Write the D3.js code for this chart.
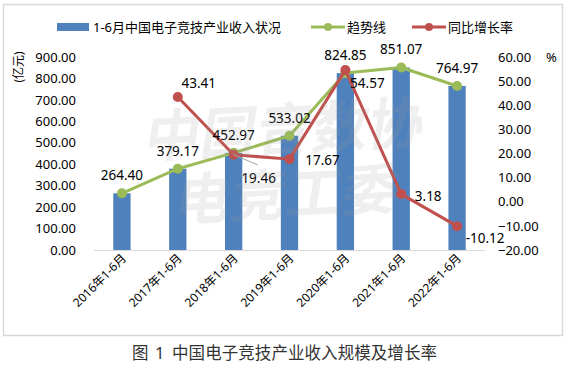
<!DOCTYPE html>
<html><head><meta charset="utf-8">
<script src="https://cdn.jsdelivr.net/npm/d3@7"></script>
<style>
html,body{margin:0;padding:0;background:#fff;}
text{font-family:"Noto Sans","Noto Sans CJK SC",sans-serif;}
</style></head>
<body><svg id="c" width="568" height="368"></svg>
<script>
const categories = ["2016年1-6月","2017年1-6月","2018年1-6月","2019年1-6月","2020年1-6月","2021年1-6月","2022年1-6月"];
const revenue = [264.40, 379.17, 452.97, 533.02, 824.85, 851.07, 764.97];
const growth = [null, 43.41, 19.46, 17.67, 54.57, 3.18, -10.12];
const leftTicks = [0,100,200,300,400,500,600,700,800,900];
const rightTicks = [-20,-10,0,10,20,30,40,50,60];
const seriesNames = ["1-6月中国电子竞技产业收入状况","趋势线","同比增长率"];

const blue="#4f81bd", green="#9bbb59", red="#c0504d";
const svg=d3.select("#c");
svg.append("rect").attr("x",3.5).attr("y",4.5).attr("width",559).attr("height",331)
  .attr("fill","#fff").attr("stroke","#d9d9d9").attr("stroke-width",1.5);

const x=d3.scaleBand().domain(categories).range([94,485]).paddingInner(0.69).paddingOuter(0.345);
const yL=d3.scaleLinear().domain([0,900]).range([250,57]);
const yR=d3.scaleLinear().domain([-20,60]).range([250,57]);
const cx=d=>x(d)+x.bandwidth()/2;

// left axis
const gl=svg.append("g").attr("transform","translate(76,0)")
  .call(d3.axisLeft(yL).tickValues(leftTicks).tickFormat(d3.format(".2f")).tickSize(0).tickPadding(0));
gl.select(".domain").remove();
gl.selectAll("text").attr("font-size",13).attr("fill","#000");
// right axis
const gr=svg.append("g").attr("transform","translate(498,0)")
  .call(d3.axisRight(yR).tickValues(rightTicks).tickFormat(d3.format(".2f")).tickSize(0).tickPadding(0));
gr.select(".domain").remove();
gr.selectAll("text").attr("font-size",13).attr("fill","#000");
svg.append("text").attr("x",546).attr("y",62).attr("font-size",13).text("%");
svg.append("text").attr("transform","translate(23,67) rotate(-90)").attr("text-anchor","middle")
  .attr("font-size",12).text("(亿元)");

// bars
svg.append("g").selectAll("rect").data(categories).join("rect")
  .attr("x",d=>x(d)).attr("width",x.bandwidth())
  .attr("y",(d,i)=>yL(revenue[i])).attr("height",(d,i)=>250-yL(revenue[i]))
  .attr("fill",blue);
// baseline
svg.append("line").attr("x1",94).attr("x2",485).attr("y1",250.5).attr("y2",250.5)
  .attr("stroke","#d9d9d9").attr("stroke-width",1);

// x labels
svg.append("g").selectAll("text").data(categories).join("text")
  .attr("transform",d=>`translate(${cx(d)+5},${259}) rotate(-45)`)
  .attr("text-anchor","end").attr("font-size",12).attr("fill","#000").text(d=>d);

// trend line
const ptsG=categories.map((c,i)=>[cx(c),yL(revenue[i])]);
svg.append("path").attr("d",d3.line()(ptsG)).attr("fill","none").attr("stroke",green)
  .attr("stroke-width",3).attr("stroke-linejoin","round");
svg.append("g").selectAll("circle").data(ptsG).join("circle")
  .attr("cx",d=>d[0]).attr("cy",d=>d[1]).attr("r",5).attr("fill",green);

// growth line
const ptsR=categories.map((c,i)=>growth[i]==null?null:[cx(c),yR(growth[i])]).filter(d=>d);
svg.append("path").attr("d",d3.line()(ptsR)).attr("fill","none").attr("stroke",red)
  .attr("stroke-width",3).attr("stroke-linejoin","round");
svg.append("g").selectAll("circle").data(ptsR).join("circle")
  .attr("cx",d=>d[0]).attr("cy",d=>d[1]).attr("r",5).attr("fill",red);

// leader line for 19.46
svg.append("line").attr("x1",cx(categories[2])).attr("y1",yR(growth[2]))
  .attr("x2",cx(categories[2])+24).attr("y2",yR(growth[2])+10).attr("stroke","#a6a6a6").attr("stroke-width",1);

// revenue labels
svg.append("g").selectAll("text").data(categories).join("text")
  .attr("x",d=>cx(d)).attr("y",(d,i)=>yL(revenue[i])-13)
  .attr("text-anchor","middle").attr("font-size",13.5).attr("fill","#000")
  .text((d,i)=>revenue[i].toFixed(2));
// growth labels (offsets relative to point)
const gOff=[null,[21,-9],[25,28],[33,6],[22,18],[27,7],[28,17]];
const gData=categories.map((c,i)=>({c,v:growth[i],o:gOff[i]})).filter(d=>d.v!=null);
svg.append("g").selectAll("text").data(gData).join("text")
  .attr("x",d=>cx(d.c)+d.o[0]).attr("y",d=>yR(d.v)+d.o[1])
  .attr("text-anchor","middle").attr("font-size",13.5).attr("fill","#000")
  .text(d=>d.v.toFixed(2));

// watermark
const wm=svg.append("g").attr("fill","#9a9a9a").attr("fill-opacity",0.16)
  .attr("font-weight","bold").attr("font-size",56).attr("font-family","Noto Sans CJK SC");
wm.append("text").attr("transform","translate(282,150) rotate(-3) skewX(-12)").attr("text-anchor","middle").text("中国音数协");
wm.append("text").attr("transform","translate(284,215) rotate(-3) skewX(-12)").attr("text-anchor","middle").text("电竞工委");

// legend
svg.append("rect").attr("x",57).attr("y",23).attr("width",32).attr("height",8).attr("fill",blue);
svg.append("text").attr("x",93).attr("y",32).attr("font-size",13).text(seriesNames[0]);
svg.append("line").attr("x1",311).attr("x2",345).attr("y1",27).attr("y2",27).attr("stroke",green).attr("stroke-width",3);
svg.append("circle").attr("cx",328).attr("cy",27).attr("r",4).attr("fill",green);
svg.append("text").attr("x",347).attr("y",32).attr("font-size",13).text(seriesNames[1]);
svg.append("line").attr("x1",412).attr("x2",446).attr("y1",27).attr("y2",27).attr("stroke",red).attr("stroke-width",3);
svg.append("circle").attr("cx",429).attr("cy",27).attr("r",4).attr("fill",red);
svg.append("text").attr("x",448).attr("y",32).attr("font-size",13).text(seriesNames[2]);

// caption
const cap=svg.append("g").attr("font-size",16.5).attr("fill","#333").attr("font-family","serif");
cap.append("text").attr("x",132).attr("y",359).text("图");
cap.append("text").attr("x",155).attr("y",359).text("1");
cap.append("text").attr("x",172).attr("y",359).attr("textLength",265).text("中国电子竞技产业收入规模及增长率");
</script></body></html>
